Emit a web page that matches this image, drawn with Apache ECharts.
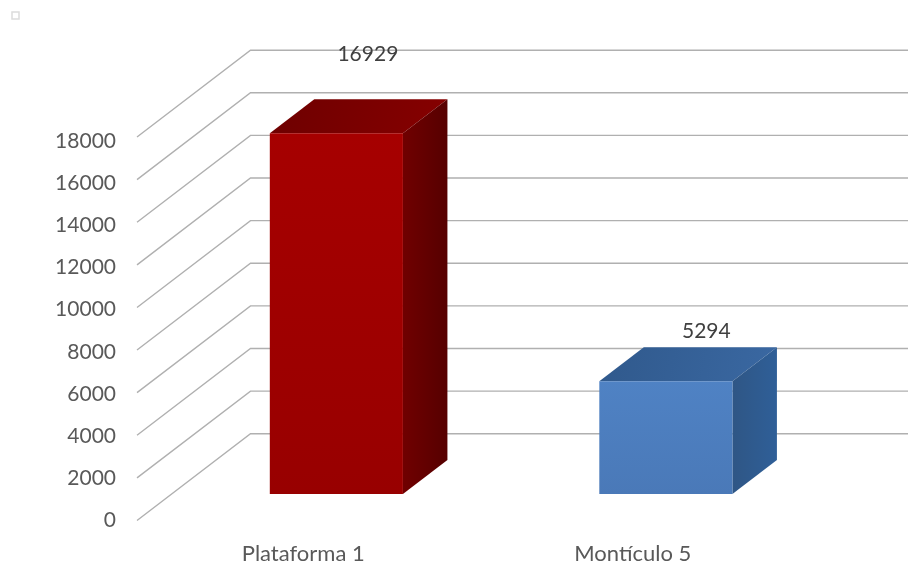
<!DOCTYPE html>
<html>
<head>
<meta charset="utf-8">
<title>Chart</title>
<style>
    html, body { margin: 0; padding: 0; background: #fff; }
    #chart { width: 908px; height: 571px; }
</style>
<script src="https://cdn.jsdelivr.net/npm/echarts@6/dist/echarts.min.js"></script>
</head>
<body>
<div id="chart"></div>
<script>
// Data
const categories = ['Plataforma 1', 'Montículo 5'];
const values = [16929, 5294];
const wallTicks = [0, 2000, 4000, 6000, 8000, 10000, 12000, 14000, 16000, 18000];

// Look of the fake 3D box
const DEPTH_X = 113.5;
const DEPTH_Y = -86.8;
const BAR_FRONT = 0.305;
const BAR_BACK = 0.697;
const BAR_WIDTH = 0.404;
const barColors = [
    { front: ['#a60000', '#980000'], top: ['#6e0000', '#860000'], side: ['#700000', '#560000'] },
    { front: ['#4f82c4', '#4a79b8'], top: ['#30598c', '#3a68a2'], side: ['#2f5685', '#2f5f98'] }
];
// Data labels were placed by hand in the original
const labelShift = [[-13, -45], [-4, -16]];

const chart = echarts.init(document.getElementById('chart'));

function linear(c, x2, y2) {
    return new echarts.graphic.LinearGradient(0, 0, x2, y2, [
        { offset: 0, color: c[0] },
        { offset: 1, color: c[1] }
    ]);
}

function renderWall(params, api) {
    const rect = params.coordSys;
    const p = api.coord([0, api.value(0)]);
    const left = [rect.x, p[1]];
    const back = [rect.x + DEPTH_X, p[1] + DEPTH_Y];
    const right = [rect.x + rect.width + DEPTH_X, p[1] + DEPTH_Y];
    return {
        type: 'polyline',
        shape: { points: [left, back, right] },
        style: { fill: null, stroke: '#b0b0b0', lineWidth: 1.4 }
    };
}

function renderBar(params, api) {
    const i = params.dataIndex;
    const base = api.coord([i, 0]);
    const peak = api.coord([i, api.value(1)]);
    const half = api.size([1, 0])[0] * BAR_WIDTH / 2;
    const colors = barColors[i];

    const at = (x, y, t) => [base[0] + x * half + t * DEPTH_X, y + t * DEPTH_Y];
    const fbl = at(-1, base[1], BAR_FRONT);
    const fbr = at(1, base[1], BAR_FRONT);
    const ftl = at(-1, peak[1], BAR_FRONT);
    const ftr = at(1, peak[1], BAR_FRONT);
    const bbr = at(1, base[1], BAR_BACK);
    const btl = at(-1, peak[1], BAR_BACK);
    const btr = at(1, peak[1], BAR_BACK);

    const shift = labelShift[i];
    return {
        type: 'group',
        children: [
            { type: 'polygon', shape: { points: [ftl, btl, btr, ftr] }, style: { fill: linear(colors.top, 1, 1) } },
            { type: 'polygon', shape: { points: [ftr, btr, bbr, fbr] }, style: { fill: linear(colors.side, 1, 0) } },
            { type: 'polygon', shape: { points: [ftl, ftr, fbr, fbl] }, style: { fill: linear(colors.front, 0, 1) } },
            {
                type: 'text',
                style: {
                    x: base[0] + BAR_BACK * DEPTH_X + shift[0],
                    y: peak[1] + BAR_BACK * DEPTH_Y + shift[1],
                    text: String(api.value(1)),
                    align: 'center',
                    verticalAlign: 'middle',
                    fill: '#404040',
                    font: '21px Lato'
                }
            }
        ]
    };
}

chart.setOption({
    animation: false,
    backgroundColor: '#fff',
    textStyle: { fontFamily: 'Lato' },
    graphic: [{
        type: 'rect',
        shape: { x: 12, y: 12, width: 7, height: 7 },
        style: { fill: '#fff', stroke: '#dcdcdc', lineWidth: 1.5 }
    }],
    // Second grid only carries the tick labels, their spacing is a bit tighter than the walls
    grid: [
        { left: 137, top: 137, width: 659, height: 383.5 },
        { left: 137, top: 141, width: 659, height: 379.5 }
    ],
    xAxis: [
        {
            type: 'category',
            data: categories,
            axisLine: { show: false },
            axisTick: { show: false },
            axisLabel: { color: '#595959', fontSize: 22, margin: 22, padding: [0, 0, 0, 3] }
        },
        { type: 'category', gridIndex: 1, data: categories, show: false }
    ],
    yAxis: [
        {
            type: 'value',
            min: 0,
            max: 18000,
            interval: 2000,
            axisLine: { show: false },
            axisTick: { show: false },
            splitLine: { show: false },
            axisLabel: { show: false }
        },
        {
            type: 'value',
            gridIndex: 1,
            min: 0,
            max: 18000,
            interval: 2000,
            axisLine: { show: false },
            axisTick: { show: false },
            splitLine: { show: false },
            axisLabel: { color: '#595959', fontSize: 21, margin: 21, formatter: v => String(v) }
        }
    ],
    series: [
        {
            name: 'walls',
            type: 'custom',
            renderItem: renderWall,
            data: wallTicks.map(t => [t]),
            encode: { y: 0 },
            silent: true,
            z: 1
        },
        {
            name: 'bars',
            type: 'custom',
            renderItem: renderBar,
            data: values.map((v, i) => [i, v]),
            encode: { x: 0, y: 1 },
            z: 2
        }
    ]
});
</script>
</body>
</html>
